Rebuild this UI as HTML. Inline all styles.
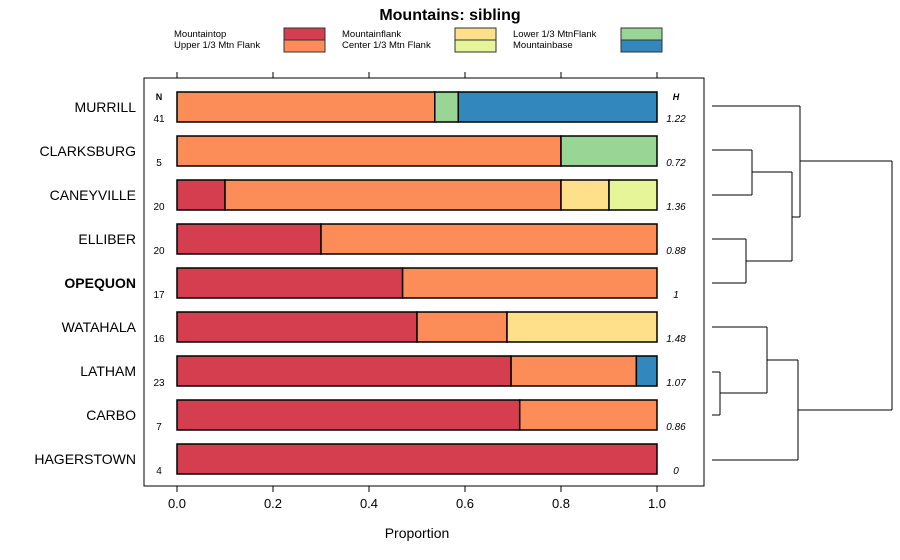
<!DOCTYPE html>
<html><head><meta charset="utf-8"><style>
body{margin:0;background:#fff;}
svg{display:block;font-family:"Liberation Sans",Arial,sans-serif;}
</style></head><body>
<svg id="chart" width="900" height="560">
<text x="450" y="20" text-anchor="middle" font-size="16" font-weight="bold">Mountains: sibling</text>
<g id="legend"></g>
<rect x="144" y="78" width="560" height="408" fill="none" stroke="#000" stroke-width="1"/>
<g id="bars"></g>
<g id="axis"></g>
<g id="dendro" stroke="#000" stroke-width="1" fill="none"></g>
<text x="417" y="538" text-anchor="middle" font-size="14">Proportion</text>
<text x="159" y="100" text-anchor="middle" font-size="9" font-weight="bold">N</text>
<text x="676" y="100" text-anchor="middle" font-size="9" font-weight="bold" font-style="italic">H</text>
</svg>
<script>
const categories=["MURRILL","CLARKSBURG","CANEYVILLE","ELLIBER","OPEQUON","WATAHALA","LATHAM","CARBO","HAGERSTOWN"];
const seriesNames=["Mountaintop","Upper 1/3 Mtn Flank","Mountainflank","Center 1/3 Mtn Flank","Lower 1/3 MtnFlank","Mountainbase"];
const colors=["#d53e4f","#fc8d59","#fee08b","#e6f598","#99d594","#3288bd"];
const mountaintop=[0,0,0.1,0.3,0.47,0.5,0.696,0.714,1];
const upperFlank=[0.537,0.8,0.7,0.7,0.53,0.1875,0.261,0.286,0];
const mountainflank=[0,0,0.1,0,0,0.3125,0,0,0];
const centerFlank=[0,0,0.1,0,0,0,0,0,0];
const lowerFlank=[0.049,0.2,0,0,0,0,0,0,0];
const mountainbase=[0.414,0,0,0,0,0,0.043,0,0];
const counts=["41","5","20","20","17","16","23","7","4"];
const entropy=["1.22","0.72","1.36","0.88","1","1.48","1.07","0.86","0"];
const ticks=[0,0.2,0.4,0.6,0.8,1.0];
const tickLabels=["0.0","0.2","0.4","0.6","0.8","1.0"];
const series=[mountaintop,upperFlank,mountainflank,centerFlank,lowerFlank,mountainbase];
const NS="http://www.w3.org/2000/svg";
function X(v){return 177+v*480;}
function Y(i){return 107+i*44;}
function mk(tag,attrs,parent){const e=document.createElementNS(NS,tag);for(const k in attrs)e.setAttribute(k,attrs[k]);parent.appendChild(e);return e;}
const bars=document.getElementById('bars'),axis=document.getElementById('axis'),leg=document.getElementById('legend'),dg=document.getElementById('dendro');
// legend
const lx=[174,342,513],bx=[284,455,621];
seriesNames.forEach((n,k)=>{const col=Math.floor(k/2),row=k%2;
 const t=mk('text',{x:lx[col],y:37+row*11,'font-size':9.5},leg);t.textContent=n;
 
 
 const r=mk('rect',{x:bx[col],y:28+row*12,width:41,height:12,fill:colors[k],stroke:'#333','stroke-width':1},leg);
 
 
});
categories.forEach((c,i)=>{
 let cum=0;const y=Y(i)-15;
 series.forEach((s,k)=>{if(s[i]>0){const r=mk('rect',{x:X(cum),y:y,width:X(cum+s[i])-X(cum),height:30,fill:colors[k],stroke:'#000','stroke-width':1.5},bars);
  
  
  cum+=s[i];}});
 const lab=mk('text',{x:136,y:Y(i)+5,'text-anchor':'end','font-size':14,'font-weight':c==="OPEQUON"?'bold':'normal'},axis);lab.textContent=c;
 
 
 const n=mk('text',{x:159,y:Y(i)+15,'text-anchor':'middle','font-size':10},axis);n.textContent=counts[i];
 
 
 const h=mk('text',{x:676,y:Y(i)+15,'text-anchor':'middle','font-size':10,'font-style':'italic'},axis);h.textContent=entropy[i];
 
 
});
ticks.forEach((t,j)=>{
 mk('line',{x1:X(t),x2:X(t),y1:486,y2:492,stroke:'#000'},axis);
 mk('line',{x1:X(t),x2:X(t),y1:72,y2:78,stroke:'#000'},axis);
 const tl=mk('text',{x:X(t),y:508,'text-anchor':'middle','font-size':13},axis);tl.textContent=tickLabels[j];
 
 
});
// dendrogram
const segs=[[712,150,752,150],[712,195,752,195],[752,150,752,195],
[712,239,746,239],[712,283,746,283],[746,239,746,283],
[752,172,792,172],[746,261,792,261],[792,172,792,261],
[712,106,800,106],[792,217,800,217],[800,106,800,217],
[712,372,720,372],[712,415,720,415],[720,372,720,415],
[712,327,767,327],[720,393,767,393],[767,327,767,393],
[767,360,798,360],[712,460,798,460],[798,360,798,460],
[800,161,892,161],[798,410,892,410],[892,161,892,410]];
segs.forEach(s=>mk('line',{x1:s[0],y1:s[1],x2:s[2],y2:s[3]},dg));
</script>
</body></html>
